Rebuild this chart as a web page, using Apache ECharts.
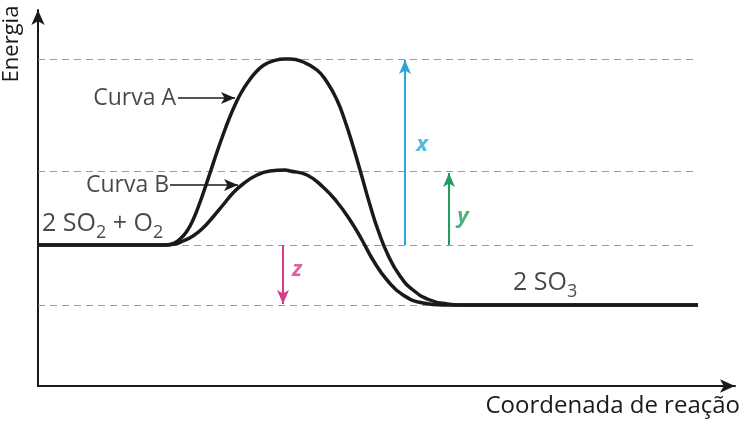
<!DOCTYPE html>
<html><head><meta charset="utf-8">
<script src="https://cdn.jsdelivr.net/npm/echarts@6/dist/echarts.min.js"></script>
<style>html,body{margin:0;padding:0;background:#fff}#c{width:743px;height:422px}</style>
</head><body><div id="c"></div>
<script>
// ---- data (x: reaction coordinate, y: energy, arbitrary units) ----
const curveA = [[0,141],[127,141],[134,142],[142,147],[149,155],[155,166],[161,181],[167,198],[173,216],[179,234],[185,251],[191,267],[197,281],[203,293],[210,304],[218,314],[226,321],[235,325],[247,327],[252,327],[265,324],[279,316],[289,304],[299,286],[307,265],[315,240],[324,209],[332,181],[340,156],[350,131],[362,110],[375,96],[392,86],[409,82],[422,81],[660,81]];
const curveB = [[0,141],[127,141],[137,142],[145,145],[155,150],[165,158],[175,169],[185,181],[195,193],[205,202],[219,211],[232,215],[247,216],[252,215],[269,211],[285,199],[299,184],[312,166],[324,146],[335,126],[349,106],[365,91],[385,83],[405,81],[417,81],[660,81]];
const levels = [327, 215, 141, 81];
const levelEnd = 657;
const diffArrows = [
  {name:'x', x:367, from:141, to:326},
  {name:'y', x:411, from:141, to:213},
  {name:'z', x:245, from:141, to:82}
];
const pointers = [
  {name:'Curva A', y:288, from:140, to:197},
  {name:'Curva B', y:201, from:132, to:200}
];
const curveLabels = [
  {text:'Curva A', at:[138,288]},
  {text:'Curva B', at:[131,201]}
];
const speciesLabels = [
  {parts:[['m','2 SO'],['s','2'],['m',' + O'],['s','2']], at:[4,180]},
  {parts:[['m','2 SO'],['s','3']], at:[475,121]}
];
const diffLabels = [
  {text:'x', at:[384,241]},
  {text:'y', at:[425,169]},
  {text:'z', at:[259,116]}
];
const axisTitles = {x:'Coordenada de reação', y:'Energia'};

// ---- styles ----
const INK = '#1a1a1a';
const FONT = '"Open Sans", sans-serif';
const arrowColors = ['#2ba6da', '#1f9d5a', '#d83a8c'];

const labelData = [];
curveLabels.forEach(l => labelData.push({value:l.at, label:{formatter:l.text, align:'right', verticalAlign:'middle', fontSize:23, color:INK}}));
speciesLabels.forEach(l => labelData.push({value:l.at, label:{
  formatter:l.parts.map(p => '{' + p[0] + '|' + p[1] + '}').join(''),
  align:'left', verticalAlign:'top',
  rich:{m:{fontSize:25, lineHeight:36, fontFamily:FONT, color:INK}, s:{fontSize:18, lineHeight:18, verticalAlign:'bottom', fontFamily:FONT, color:INK}}
}}));
diffLabels.forEach((l,i) => labelData.push({value:l.at, label:{formatter:l.text, align:'center', verticalAlign:'middle', fontSize:22, fontWeight:'bold', fontStyle:'italic', color:arrowColors[i]}}));

const axisCommon = {
  type:'value',
  axisLine:{show:true, onZero:false, lineStyle:{color:INK, width:2}, symbol:['none','arrow'], symbolSize:[10,15]},
  axisTick:{show:false}, axisLabel:{show:false}, splitLine:{show:false}
};

const chart = echarts.init(document.getElementById('c'));
chart.setOption({
  animation:false,
  backgroundColor:'#fff',
  grid:{left:38, right:8, top:10, bottom:36},
  xAxis:Object.assign({}, axisCommon, {min:0, max:697}),
  yAxis:Object.assign({}, axisCommon, {min:0, max:376}),
  graphic:[
    {type:'text', x:740, y:406, style:{text:axisTitles.x, font:'24px ' + FONT, fill:INK, textAlign:'right', textVerticalAlign:'middle'}},
    {type:'text', x:12, y:44, rotation:Math.PI/2, style:{text:axisTitles.y, font:'22px ' + FONT, fill:INK, textAlign:'center', textVerticalAlign:'middle'}}
  ],
  series:[
    {type:'line', name:'levels', data:[], z:1, silent:true,
     markLine:{silent:true, symbol:['none','none'], label:{show:false},
       lineStyle:{type:[7,5], color:'#9a9a9a', width:1},
       data:levels.map(v => [{coord:[0,v]},{coord:[levelEnd,v]}])}},
    {type:'line', name:'Curva A', data:curveA, smooth:0.5, symbol:'none', z:5, lineStyle:{color:INK, width:3.5}},
    {type:'line', name:'Curva B', data:curveB, smooth:0.5, symbol:'none', z:5, lineStyle:{color:INK, width:3.5}},
    {type:'line', name:'arrows', data:[], z:4,
     markLine:{silent:true, symbol:['none','arrow'], symbolSize:[9,14], label:{show:false},
       data:diffArrows.map((a,i) => [{coord:[a.x,a.from], lineStyle:{color:arrowColors[i], width:2, type:'solid'}, itemStyle:{color:arrowColors[i]}},{coord:[a.x,a.to]}])}},
    {type:'line', name:'pointers', data:[], z:4,
     markLine:{silent:true, symbol:['none','arrow'], symbolSize:[9,14], label:{show:false},
       lineStyle:{color:INK, width:1.6, type:'solid'}, itemStyle:{color:INK},
       data:pointers.map(p => [{coord:[p.from,p.y]},{coord:[p.to,p.y]}])}},
    {type:'scatter', name:'labels', symbolSize:0, z:6, silent:true,
     label:{show:true, position:[0,0], fontFamily:FONT, distance:0},
     data:labelData}
  ]
});
</script></body></html>
